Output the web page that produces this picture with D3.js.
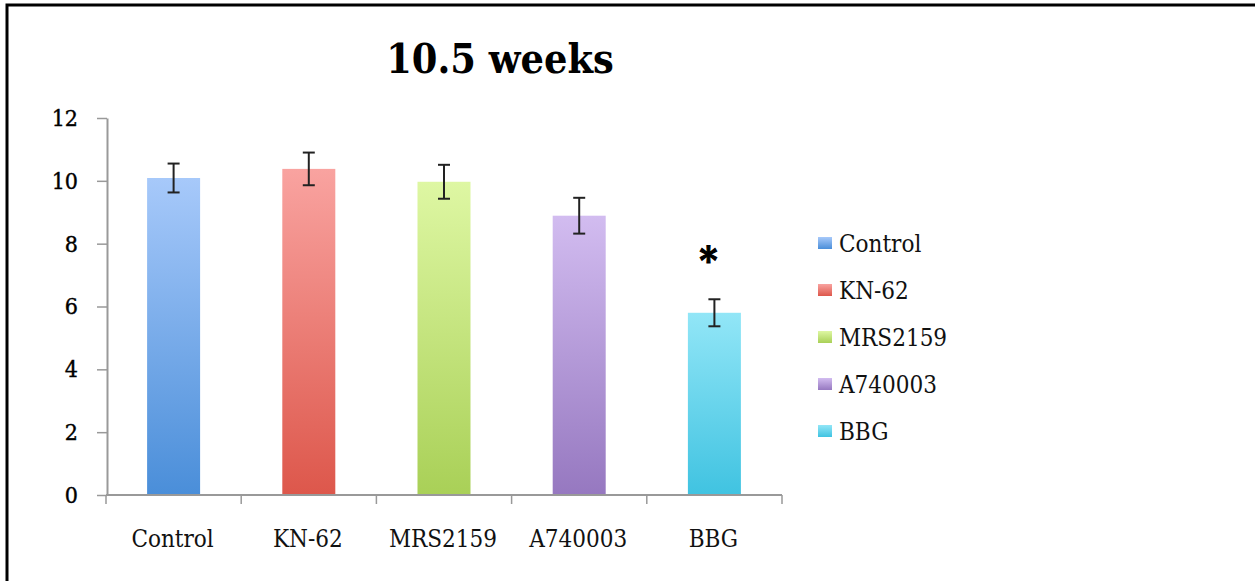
<!DOCTYPE html>
<html>
<head>
<meta charset="utf-8">
<script src="https://cdn.jsdelivr.net/npm/d3@7"></script>
<style>
  body { margin: 0; background: #fff; }
  svg { display: block; }
  .serif { font-family: "DejaVu Serif Condensed", "DejaVu Serif", serif; font-stretch: condensed; }
</style>
</head>
<body>
<div id="chart"></div>
<script>
// data
var groups = ["Control", "KN-62", "MRS2159", "A740003", "BBG"];
var means = [10.09, 10.38, 9.97, 8.89, 5.80];
var errors = [0.46, 0.52, 0.54, 0.57, 0.43];
var yTicks = [0, 2, 4, 6, 8, 10, 12];
var significant = ["BBG"];
var topColors = ["#a7c9fa", "#f9a3a0", "#def7a3", "#d2bcf0", "#92e6f7"];
var bottomColors = ["#4a8ed9", "#dd574b", "#a9d057", "#9678c0", "#40c3e1"];

var width = 1255, height = 581;
var plotLeft = 106, plotRight = 782, plotTop = 118, plotBottom = 495;

var svg = d3.select("#chart").append("svg")
    .attr("width", width)
    .attr("height", height);

var defs = svg.append("defs");
groups.forEach(function(g, i) {
   var grad = defs.append("linearGradient")
       .attr("id", "grad" + i)
       .attr("x1", 0).attr("y1", 0).attr("x2", 0).attr("y2", 1);
   grad.append("stop").attr("offset", "0%").attr("stop-color", topColors[i]);
   grad.append("stop").attr("offset", "100%").attr("stop-color", bottomColors[i]);
});

// frame
svg.append("rect")
   .attr("x", 7).attr("y", 5)
   .attr("width", 1400).attr("height", 800)
   .attr("fill", "none")
   .attr("stroke", "#000")
   .attr("stroke-width", 3);

var x = d3.scaleBand()
    .domain(groups)
    .range([plotLeft, plotRight])
    .paddingInner(0)
    .paddingOuter(0);

var y = d3.scaleLinear()
    .domain([0, 12])
    .range([plotBottom, plotTop]);

var barWidth = 53;

// title
svg.append("text")
   .attr("class", "serif")
   .attr("x", 500)
   .attr("y", 73)
   .attr("text-anchor", "middle")
   .style("font-weight", "bold")
   .style("font-size", "41px")
   .style("fill", "#000")
   .text("10.5 weeks");

// bars
svg.append("g").selectAll("rect")
   .data(groups)
   .enter()
   .append("rect")
   .attr("x", function(d) { return x(d) + x.bandwidth() / 2 - barWidth / 2; })
   .attr("y", function(d, i) { return y(means[i]); })
   .attr("width", barWidth)
   .attr("height", function(d, i) { return y(0) - y(means[i]); })
   .attr("fill", function(d, i) { return "url(#grad" + i + ")"; });

// error bars
var eb = svg.append("g")
   .attr("stroke", "#222")
   .attr("stroke-width", 2);
groups.forEach(function(g, i) {
   var cx = x(g) + x.bandwidth() / 2;
   var hi = y(means[i] + errors[i]), lo = y(means[i] - errors[i]);
   eb.append("line").attr("x1", cx).attr("x2", cx).attr("y1", hi).attr("y2", lo);
   eb.append("line").attr("x1", cx - 6).attr("x2", cx + 6).attr("y1", hi).attr("y2", hi);
   eb.append("line").attr("x1", cx - 6).attr("x2", cx + 6).attr("y1", lo).attr("y2", lo);
});

// significance star
svg.append("g").selectAll("text")
   .data(significant)
   .enter()
   .append("text")
   .attr("class", "serif")
   .attr("x", function(d) { return x(d) + x.bandwidth() / 2 - 6; })
   .attr("y", function(d) { var i = groups.indexOf(d); return y(means[i] + errors[i]) - 26; })
   .attr("text-anchor", "middle")
   .style("font-weight", "bold")
   .style("font-size", "38px")
   .style("stroke", "#000")
   .style("stroke-width", 1.2)
   .text("*");

// y axis
var yAxis = d3.axisLeft(y)
   .tickValues(yTicks)
   .tickSize(10)
   .tickSizeOuter(0)
   .tickPadding(19);

var yg = svg.append("g")
   .attr("transform", "translate(" + (plotLeft + 1) + ",0)")
   .call(yAxis);
yg.select(".domain").attr("stroke", "#999").attr("stroke-width", 2);
yg.selectAll(".tick line").attr("stroke", "#999").attr("stroke-width", 1.5);
yg.selectAll(".tick text")
   .attr("class", "serif")
   .style("font-size", "23px")
   .style("fill", "#000")
   .style("stroke", "#000")
   .style("stroke-width", 0.4);

// x axis
var xg = svg.append("g");
xg.append("line")
   .attr("x1", plotLeft).attr("x2", plotRight)
   .attr("y1", y(0)).attr("y2", y(0))
   .attr("stroke", "#999").attr("stroke-width", 2);
var bounds = groups.map(function(d) { return x(d); }).concat([plotRight]);
xg.selectAll("line.tk")
   .data(bounds)
   .enter()
   .append("line")
   .attr("class", "tk")
   .attr("x1", function(d) { return d; })
   .attr("x2", function(d) { return d; })
   .attr("y1", y(0))
   .attr("y2", y(0) + 9)
   .attr("stroke", "#999").attr("stroke-width", 1.5);
xg.selectAll("text")
   .data(groups)
   .enter()
   .append("text")
   .attr("class", "serif")
   .attr("x", function(d) { return x(d) + x.bandwidth() / 2 - 1; })
   .attr("y", 547)
   .attr("text-anchor", "middle")
   .style("font-size", "24px")
   .style("fill", "#111")
   .text(function(d) { return d; });

// legend
var legend = svg.append("g")
   .selectAll("g")
   .data(groups)
   .enter()
   .append("g")
   .attr("transform", function(d, i) { return "translate(818," + (252 + i * 47) + ")"; });
legend.append("rect")
   .attr("x", 0)
   .attr("y", -15)
   .attr("width", 14)
   .attr("height", 12)
   .attr("fill", function(d, i) { return "url(#grad" + i + ")"; });
legend.append("text")
   .attr("class", "serif")
   .attr("x", 21)
   .attr("y", 0)
   .style("font-size", "24px")
   .style("fill", "#111")
   .text(function(d) { return d; });
</script>
</body>
</html>
